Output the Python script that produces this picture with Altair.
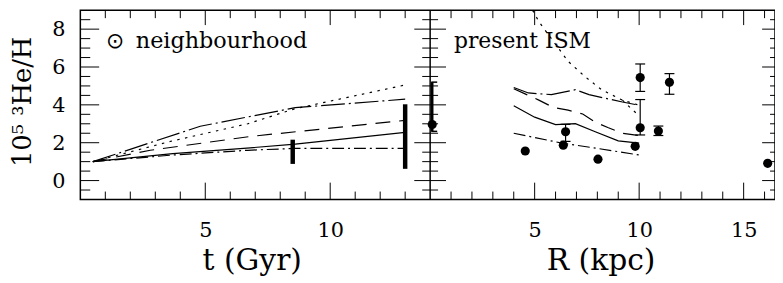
import altair as alt
import pandas as pd

# ---------------- data ----------------
# left panel: time evolution in the solar neighbourhood, t (Gyr)
T_SOLID = [0.5, 3.7, 6.8, 8.6, 13.0]
V_SOLID = [1.0, 1.42, 1.73, 1.93, 2.55]
T_DASH = [0.5, 2.8, 6.8, 13.0]
V_DASH = [1.0, 1.6, 2.33, 3.18]
T_DOT = [0.5, 3.7, 6.7, 8.6, 13.0]
V_DOT = [1.0, 2.1, 3.0, 3.8, 5.05]
T_DDHI = [0.5, 4.8, 8.6, 13.0]
V_DDHI = [1.0, 2.87, 3.85, 4.3]
T_DDLO = [0.5, 3.7, 6.7, 8.6, 13.0]
V_DDLO = [1.0, 1.35, 1.6, 1.7, 1.7]
BAR_T = [8.5, 13.0]
BAR_LO = [0.88, 0.62]
BAR_HI = [2.16, 4.03]

# right panel: present ISM gradient, R (kpc)
R_SOLID = [4.0, 5.0, 6.0, 6.95, 7.9, 9.0, 10.0]
W_SOLID = [3.95, 3.35, 2.96, 3.01, 2.58, 2.1, 1.98]
R_DASH = [4.0, 5.2, 5.9, 6.6, 7.3, 7.9, 8.5, 9.2, 10.0]
W_DASH = [4.85, 4.25, 3.86, 3.72, 3.52, 3.09, 2.8, 2.5, 2.38]
R_DDHI = [4.0, 4.7, 5.8, 6.95, 7.6, 9.2, 10.0]
W_DDHI = [4.92, 4.63, 4.54, 4.8, 4.54, 4.15, 3.98]
R_DDLO = [4.0, 6.3, 8.0, 10.0]
W_DDLO = [2.5, 1.98, 1.7, 1.35]
R_DOT = [4.9, 5.2, 5.5, 6.6, 7.4, 8.2, 9.2, 10.0]
W_DOT = [9.0, 8.4, 7.95, 6.3, 5.5, 4.8, 4.25, 3.98]
R_DOT2 = [9.2, 9.65, 10.0]
W_DOT2 = [4.25, 3.77, 3.43]

OBS_R = [0.1, 4.55, 6.48, 6.37, 8.03, 9.81, 10.05, 10.05, 10.92, 11.45, 16.15]
OBS_V = [2.96, 1.56, 2.58, 1.87, 1.13, 1.81, 5.44, 2.79, 2.62, 5.19, 0.91]
ERR_R = [6.48, 10.05, 10.05, 10.92, 11.45]
ERR_LO = [2.07, 4.71, 2.41, 2.38, 4.56]
ERR_HI = [2.97, 6.16, 4.28, 2.88, 5.65]
SUN_ERR_R = [0.1]
SUN_ERR_LO = [2.6]
SUN_ERR_HI = [5.2]

# frame ticks and tick labels
T_MINOR = [1, 2, 3, 4, 6, 7, 8, 9, 11, 12, 13]
T_MAJOR = [5, 10]
R_MINOR = [1, 2, 3, 4, 6, 7, 8, 9, 11, 12, 13, 14, 16]
R_MAJOR = [5, 10, 15]
V_MINOR = [-0.5, 0.5, 1, 1.5, 2.5, 3, 3.5, 4.5, 5, 5.5, 6.5, 7, 7.5, 8.5]
V_MAJOR = [0, 2, 4, 6, 8]
V_LABELS = ["0", "2", "4", "6", "8"]

# ---------------- layout ----------------
W1 = 353
W2 = 348
W = W1 + W2
H = 191
FONT = "DejaVu Serif"
LW = 1.2

AX = dict(ticks=False, tickSize=0, domain=False, grid=False,
          labelFont=FONT, labelFontSize=21, labelColor="black", labelFontWeight="normal",
          titleFont=FONT, titleColor="black", titleFontWeight="normal", format="d")

XT = alt.X("t:Q",
           scale=alt.Scale(domain=[0, 14], range=[0, W1], nice=False, zero=False),
           axis=alt.Axis(values=[5, 10], orient="bottom", labelPadding=20, labelFlush=False,
                         title="t (Gyr)", titleX=173, titleY=71, titleBaseline="alphabetic",
                         titleAlign="center", titleFontSize=30, **AX))
XR = alt.X("R:Q",
           scale=alt.Scale(domain=[0, 16.5], range=[W1, W], nice=False, zero=False),
           axis=alt.Axis(values=[5, 10, 15], orient="bottom", labelPadding=20, labelFlush=False,
                         title="R (kpc)", titleX=525, titleY=71, titleBaseline="alphabetic",
                         titleAlign="center", titleFontSize=30, **AX))
YV = alt.Y("v:Q",
           scale=alt.Scale(domain=[-1, 9], nice=False, zero=False),
           axis=alt.Axis(values=V_MAJOR, orient="left", offset=0, labels=False,
                         title="10⁵ ³He/H", titleX=-50, titleY=92,
                         titleAngle=270, titleBaseline="alphabetic", titleAlign="center",
                         titleFontSize=26, **AX))


def lineL(t, v, dash=None):
    d = pd.DataFrame({"t": t, "v": v})
    kw = dict(color="black", strokeWidth=LW, clip=True)
    if dash:
        kw["strokeDash"] = dash
    return alt.Chart(d).mark_line(**kw).encode(x=XT, y=YV)


def lineR(r, v, dash=None):
    d = pd.DataFrame({"R": r, "v": v})
    kw = dict(color="black", strokeWidth=LW, clip=True)
    if dash:
        kw["strokeDash"] = dash
    return alt.Chart(d).mark_line(**kw).encode(x=XR, y=YV)


def xticks(field_enc, field, vals, y1, y2):
    d = pd.DataFrame({field: vals})
    return alt.Chart(d).mark_rule(color="black", strokeWidth=1).encode(
        x=field_enc, y=alt.value(y1), y2=alt.value(y2))


def yticks(vals, x1, x2):
    d = pd.DataFrame({"v": vals})
    return alt.Chart(d).mark_rule(color="black", strokeWidth=1).encode(
        y=YV, x=alt.value(x1), x2=alt.value(x2))


DASH = [15, 9]
DOT = [2.5, 5.5]
DDHI = [24, 4, 2, 4]
DDLO = [12, 4, 2, 4]

bars = alt.Chart(pd.DataFrame({"t": BAR_T, "v": BAR_LO, "v2": BAR_HI})).mark_rule(
    color="black", strokeWidth=4.5).encode(x=XT, y=YV, y2=alt.Y2("v2"))

ylabels = alt.Chart(pd.DataFrame({"v": V_MAJOR, "label": V_LABELS})).mark_text(
    align="right", baseline="middle", font=FONT, fontSize=21, color="black", dy=1
).encode(y=YV, x=alt.value(-15), text="label:N")

sun = alt.Chart(pd.DataFrame({"t": [1.03], "v": [7.03], "label": ["⊙"]})).mark_text(
    align="left", baseline="alphabetic", font="DejaVu Sans", fontSize=22, color="black"
).encode(x=XT, y=YV, text="label:N")
neigh = alt.Chart(pd.DataFrame({"t": [2.22], "v": [7.03], "label": ["neighbourhood"]})).mark_text(
    align="left", baseline="alphabetic", font=FONT, fontSize=22.5, color="black"
).encode(x=XT, y=YV, text="label:N")

left = alt.layer(
    lineL(T_SOLID, V_SOLID),
    lineL(T_DASH, V_DASH, DASH),
    lineL(T_DOT, V_DOT, DOT),
    lineL(T_DDHI, V_DDHI, DDHI),
    lineL(T_DDLO, V_DDLO, DDLO),
    bars,
    xticks(XT, "t", T_MINOR, H, H - 8),
    xticks(XT, "t", T_MAJOR, H, H - 17),
    xticks(XT, "t", T_MINOR, 0, 8),
    xticks(XT, "t", T_MAJOR, 0, 15),
    yticks(V_MINOR, 0, 10),
    yticks(V_MAJOR, 0, 19),
    yticks(V_MINOR, W1 - 8, W1 + 8),
    yticks(V_MAJOR, W1 - 16, W1 + 16),
    yticks(V_MINOR, W - 5, W),
    yticks(V_MAJOR, W - 13, W),
    ylabels,
    sun, neigh,
)

obs = alt.Chart(pd.DataFrame({"R": OBS_R, "v": OBS_V})).mark_circle(
    color="black", opacity=1, size=85).encode(x=XR, y=YV)
err = alt.Chart(pd.DataFrame({"R": ERR_R, "v": ERR_LO, "v2": ERR_HI})).mark_rule(
    color="black", strokeWidth=1.2).encode(x=XR, y=YV, y2=alt.Y2("v2"))
caps = alt.Chart(pd.DataFrame({"R": ERR_R + ERR_R, "v": ERR_LO + ERR_HI})).mark_rule(
    color="black", strokeWidth=1.2, xOffset=-5, x2Offset=5).encode(
    x=XR, x2=alt.X2("R"), y=YV)
sun_err = alt.Chart(pd.DataFrame({"R": SUN_ERR_R, "v": SUN_ERR_LO, "v2": SUN_ERR_HI})).mark_rule(
    color="black", strokeWidth=2.5).encode(x=XR, y=YV, y2=alt.Y2("v2"))
sun_caps = alt.Chart(pd.DataFrame({"R": SUN_ERR_R + SUN_ERR_R, "v": SUN_ERR_LO + SUN_ERR_HI})).mark_rule(
    color="black", strokeWidth=1.5, xOffset=-1, x2Offset=5).encode(
    x=XR, x2=alt.X2("R"), y=YV)
border = alt.Chart(pd.DataFrame({"R": [0.0]})).mark_rule(color="black", strokeWidth=1.5).encode(
    x=XR, y=alt.value(0), y2=alt.value(H))
ism = alt.Chart(pd.DataFrame({"R": [1.14], "v": [7.03], "label": ["present ISM"]})).mark_text(
    align="left", baseline="alphabetic", font=FONT, fontSize=22, color="black"
).encode(x=XR, y=YV, text="label:N")

right = alt.layer(
    lineR(R_SOLID, W_SOLID),
    lineR(R_DASH, W_DASH, DASH),
    lineR(R_DOT, W_DOT, DOT),
    lineR(R_DOT2, W_DOT2, DOT),
    lineR(R_DDHI, W_DDHI, DDHI),
    lineR(R_DDLO, W_DDLO, DDLO),
    border,
    err, caps, sun_err, sun_caps, obs,
    xticks(XR, "R", R_MINOR, H, H - 8),
    xticks(XR, "R", R_MAJOR, H, H - 17),
    xticks(XR, "R", R_MINOR, 0, 8),
    xticks(XR, "R", R_MAJOR, 0, 15),
    ism,
)

chart = alt.layer(left, right).resolve_scale(x="independent").properties(
    width=W, height=H,
    padding={"left": 73, "top": 1, "right": 0, "bottom": 80},
    autosize=alt.AutoSizeParams(type="none"),
    background="white",
).configure_view(stroke="black", strokeWidth=1.5)

chart.save("out.html", embed_options={"renderer": "svg", "actions": False})
